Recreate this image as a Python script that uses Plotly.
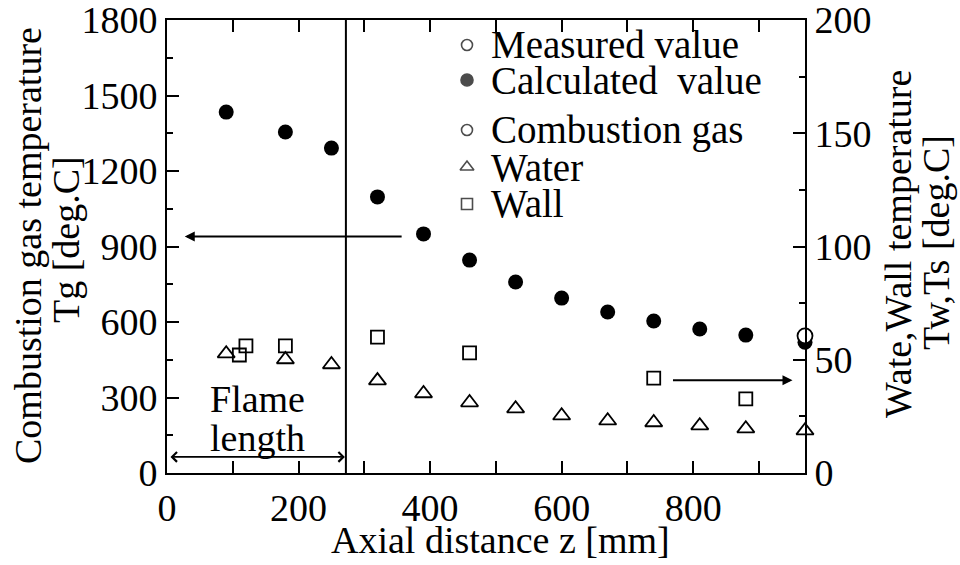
import plotly.graph_objects as go

# Axial positions [mm] and temperatures
z_calc = [90, 180, 250, 320, 390, 460, 530, 600, 670, 740, 810, 880, 970]
tg_calc = [1434, 1355, 1291, 1097, 950, 846, 759, 695, 640, 604, 572, 548, 520]

z_meas = [970]
tg_meas = [545]

z_water = [90, 180, 250, 320, 390, 460, 530, 600, 670, 740, 810, 880, 970]
t_water = [52.7, 50.1, 47.9, 40.8, 35.1, 31.1, 28.4, 25.3, 23.1, 22.3, 20.9, 19.6, 18.7]

z_wall = [110, 120, 180, 320, 460, 740, 880]
t_wall = [52.1, 56.1, 56.1, 60.0, 53.0, 41.9, 32.7]

flame_length = 272

legend_labels = ["Measured value", "Calculated&nbsp; value", "Combustion gas", "Water", "Wall"]
legend_symbols = ["circle-open", "circle", "circle-open", "triangle-up-open", "square-open"]

x_ticks = [0, 200, 400, 600, 800]
y_ticks = [0, 300, 600, 900, 1200, 1500, 1800]
y2_ticks = [0, 50, 100, 150, 200]

FONT = "Liberation Serif, Times New Roman, DejaVu Serif, serif"
FS_TICK = 38
FS_TITLE = 38
FS_LEGEND = 39

# plot area in pixels
L, R, T, B = 167, 155, 20, 92
W, H = 960, 565
PW, PH = W - L - R, H - T - B


def px_x(p):
    return (p - L) / PW


def px_y(p):
    return (H - B - p) / PH


def text_font(size):
    return dict(family=FONT, size=size, color="black")


fig = go.Figure()

fig.add_trace(go.Scatter(
    x=z_water, y=t_water, mode="markers", yaxis="y2", name="Water",
    marker=dict(symbol="triangle-up-open", size=15, color="black", line=dict(width=1.8)),
    cliponaxis=False, showlegend=False))
fig.add_trace(go.Scatter(
    x=z_wall, y=t_wall, mode="markers", yaxis="y2", name="Wall",
    marker=dict(symbol="square-open", size=13, color="black", line=dict(width=1.8)),
    cliponaxis=False, showlegend=False))
fig.add_trace(go.Scatter(
    x=z_calc, y=tg_calc, mode="markers", name="Calculated value",
    marker=dict(symbol="circle", size=15, color="black"),
    cliponaxis=False, showlegend=False))
fig.add_trace(go.Scatter(
    x=z_meas, y=tg_meas, mode="markers", name="Measured value",
    marker=dict(symbol="circle", size=15, color="white", line=dict(width=1.8, color="black")),
    cliponaxis=False, showlegend=False))

# legend block (symbols on an overlay axis spanning the plot area)
leg_sym_x = px_x(467)
leg_txt_x = px_x(489)
leg_rows = [45, 80, 130, 167, 204]
fig.add_trace(go.Scatter(
    x=[leg_sym_x] * len(legend_symbols), y=[px_y(r) for r in leg_rows],
    xaxis="x3", yaxis="y3", mode="markers", showlegend=False, hoverinfo="skip",
    marker=dict(symbol=legend_symbols, size=[11, 12, 11, 12, 11], color="black",
                line=dict(width=1.6, color="black"))))

annotations = []
for lab, r in zip(legend_labels, leg_rows):
    annotations.append(dict(
        x=leg_txt_x, y=px_y(r), xref="paper", yref="paper", text=lab,
        showarrow=False, xanchor="left", yanchor="middle", font=text_font(FS_LEGEND)))

# arrows
annotations.append(dict(
    x=27, y=940, ax=359, ay=940, xref="x", yref="y", axref="x", ayref="y",
    showarrow=True, arrowhead=2, arrowsize=1, arrowwidth=2, arrowcolor="black", text=""))
annotations.append(dict(
    x=951, y=41, ax=767, ay=41, xref="x", yref="y2", axref="x", ayref="y2",
    showarrow=True, arrowhead=2, arrowsize=1, arrowwidth=2, arrowcolor="black", text=""))
annotations.append(dict(
    x=flame_length, y=64, ax=0, ay=64, xref="x", yref="y", axref="x", ayref="y",
    showarrow=True, arrowhead=4, startarrowhead=4, arrowside="end+start",
    arrowsize=1.2, arrowwidth=1.6, arrowcolor="black", text="",
    standoff=1, startstandoff=2))

annotations.append(dict(x=138, y=294, xref="x", yref="y", text="Flame", showarrow=False,
                        font=text_font(FS_TICK)))
annotations.append(dict(x=138, y=139, xref="x", yref="y", text="length", showarrow=False,
                        font=text_font(FS_TICK)))

# axis titles, one annotation per line
for txt, cx, cy in [("Combustion gas temperature", 28, 246), ("Tg [deg.C]", 66, 240),
                    ("Wate,Wall temperature", 898, 244), ("Tw,Ts [deg.C]", 936, 243)]:
    annotations.append(dict(
        x=px_x(cx), y=px_y(cy), xref="paper", yref="paper", text=txt, textangle=-90,
        showarrow=False, xanchor="center", yanchor="middle", font=text_font(FS_TITLE)))
annotations.append(dict(
    x=px_x(500), y=px_y(540), xref="paper", yref="paper",
    text="Axial distance z [mm]", showarrow=False, xanchor="center", yanchor="middle",
    font=text_font(FS_TITLE)))

fig.add_shape(type="line", x0=flame_length, x1=flame_length, y0=0, y1=1800,
              xref="x", yref="y", line=dict(color="black", width=2))

axis_common = dict(
    showgrid=False, zeroline=False, showline=True, linecolor="black", linewidth=2,
    ticks="inside", tickcolor="black", tickwidth=1.6, ticklen=12,
    tickfont=text_font(FS_TICK), ticklabeloverflow="allow",
)
minor_common = dict(ticks="inside", ticklen=6, tickcolor="black", tickwidth=1.6)

fig.update_layout(
    width=W, height=H,
    margin=dict(l=L, r=R, t=T, b=B, autoexpand=False),
    paper_bgcolor="white", plot_bgcolor="white",
    showlegend=False,
    font=text_font(FS_TICK),
    xaxis=dict(axis_common, range=[0, 970], tickvals=x_ticks, mirror="allticks",
               minor=dict(minor_common, dtick=100)),
    yaxis=dict(axis_common, range=[0, 1800], tickvals=y_ticks,
               minor=dict(minor_common, dtick=150)),
    yaxis2=dict(axis_common, range=[0, 200], tickvals=y2_ticks, overlaying="y", side="right",
                minor=dict(minor_common, dtick=25)),
    xaxis3=dict(range=[0, 1], visible=False, overlaying="x", anchor="y3"),
    yaxis3=dict(range=[0, 1], visible=False, overlaying="y", anchor="x3"),
    annotations=annotations,
)

fig.write_html("out.html")
